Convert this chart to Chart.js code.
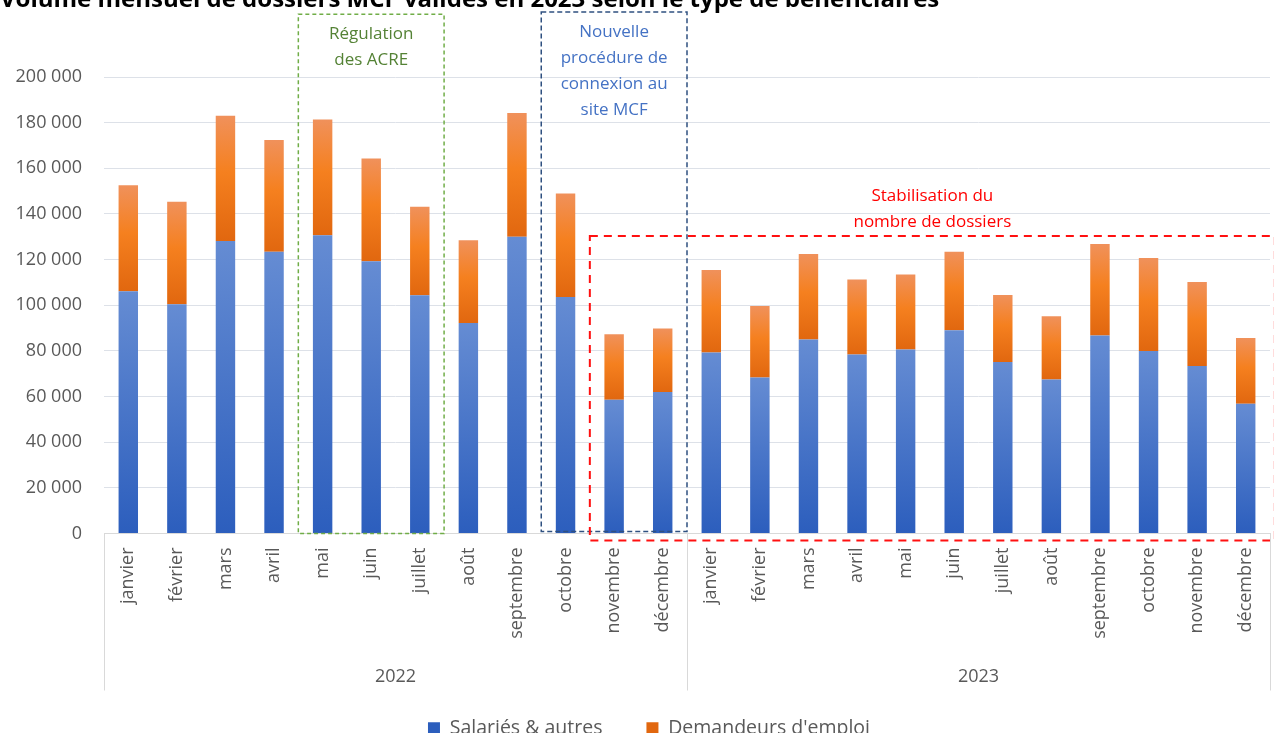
<!DOCTYPE html>
<html lang="fr">
<head>
<meta charset="utf-8">
<title>Dossiers MCF</title>
<script src="https://cdn.jsdelivr.net/npm/chart.js@4.4.1/dist/chart.umd.min.js"></script>
<style>
html, body { margin: 0; padding: 0; background: #fff; overflow: hidden; }
#wrap { position: absolute; left: 0; top: -14px; width: 1274px; height: 762px; }
</style>
</head>
<body>
<div id="wrap"><canvas id="mycanvas"></canvas></div>
<script>
// Categories
var mois = ['janvier', 'février', 'mars', 'avril', 'mai', 'juin', 'juillet', 'août', 'septembre', 'octobre', 'novembre', 'décembre'];
var annees = ['2022', '2023'];
var labels = mois.concat(mois);

// Series (2022 then 2023)
var salaries = [106100, 100400, 128200, 123400, 130700, 119300, 104400, 92200, 130000, 103600, 58600, 62000,
                79300, 68300, 85000, 78400, 80600, 89000, 75100, 67500, 86700, 80000, 73400, 56900];
var demandeurs = [46500, 44900, 54800, 49000, 50700, 45000, 38700, 36300, 54200, 45400, 28700, 27800,
                  36100, 31400, 37500, 32900, 32900, 34400, 29400, 27700, 40100, 40700, 36800, 28800];

// Y axis ticks
var yMax = 200000;
var yStep = 20000;

var titre = 'Volume mensuel de dossiers MCF validés en 2023 selon le type de bénéficiaires';

// Encadrés (annotations), bornes en index de catégorie et en valeur
var encadres = [
  { lignes: ['Régulation', 'des ACRE'], de: 4, a: 7, haut: 227500, bas: 0,
    trait: '#70AD47', texte: '#548235', tirets: [4, 3], epaisseur: 1.5, dedans: true },
  { lignes: ['Nouvelle', 'procédure de', 'connexion au', 'site MCF'], de: 9, a: 12, haut: 228500, bas: 900,
    trait: '#2F5080', texte: '#4472C4', tirets: [5, 3], epaisseur: 1.5, dedans: true },
  { lignes: ['Stabilisation du', 'nombre de dossiers'], de: 10, a: 24.1, haut: 130300, bas: -3100,
    trait: '#FF1010', texte: '#FF0000', tirets: [8, 6], epaisseur: 2, dedans: false }
];

var police = "'Open Sans', sans-serif";
var gris = '#595959';

function espaceMilliers(v) {
  return String(v).replace(/\B(?=(\d{3})+(?!\d))/g, ' ');
}

// Gradient for each bar segment
function degrade(context, bas, haut, stops, uni) {
  var chart = context.chart;
  if (context.type !== 'data' || !chart.chartArea) return uni;
  var y = chart.scales.y;
  var y0 = y.getPixelForValue(bas);
  var y1 = y.getPixelForValue(haut);
  var g = chart.ctx.createLinearGradient(0, y1, 0, y0);
  for (var k = 0; k < stops.length; k++) g.addColorStop(stops[k][0], stops[k][1]);
  return g;
}

var plugAnnot = {
  id: 'annotations',
  afterLayout: function(chart) {
    // légende un peu décalée vers la droite, comme dans l'original
    chart.legend.left += 28;
  },
  afterDatasetsDraw: function(chart) {
    var ctx = chart.ctx;
    var x = chart.scales.x, y = chart.scales.y;
    ctx.save();
    encadres.forEach(function(e) {
      var x0 = x.getPixelForValue(e.de - 0.5);
      var x1 = x.getPixelForValue(e.a - 0.5);
      var yt = y.getPixelForValue(e.haut);
      var yb = y.getPixelForValue(e.bas);
      ctx.setLineDash(e.tirets);
      ctx.lineWidth = e.epaisseur;
      ctx.strokeStyle = e.trait;
      ctx.strokeRect(x0, yt, x1 - x0, yb - yt);
      ctx.setLineDash([]);
      ctx.fillStyle = e.texte;
      ctx.font = '17px ' + police;
      ctx.textAlign = 'center';
      ctx.textBaseline = 'middle';
      var cx = (x0 + x1) / 2;
      var y0 = e.dedans ? yt + 20 : yt - 14 - 26 * (e.lignes.length - 1);
      e.lignes.forEach(function(l, i) {
        ctx.fillText(l, cx, y0 + i * 26);
      });
    });
    ctx.restore();
  },
  afterDraw: function(chart) {
    var ctx = chart.ctx;
    var x = chart.scales.x;
    var bas = chart.chartArea.bottom;
    ctx.save();
    // Titre (coupé en haut de l'image)
    ctx.fillStyle = '#000';
    ctx.font = 'bold 24px ' + police;
    ctx.textAlign = 'left';
    ctx.textBaseline = 'middle';
    ctx.fillText(titre, 0, 14.4);
    // Séparateurs et années
    ctx.strokeStyle = '#d9d9d9';
    ctx.lineWidth = 1;
    [-0.5, 11.5, 23.5].forEach(function(v) {
      var px = Math.round(x.getPixelForValue(v)) + 0.5;
      ctx.beginPath();
      ctx.moveTo(px, bas);
      ctx.lineTo(px, bas + 157);
      ctx.stroke();
    });
    ctx.fillStyle = gris;
    ctx.font = '18px ' + police;
    ctx.textAlign = 'center';
    annees.forEach(function(a, i) {
      ctx.fillText(a, x.getPixelForValue(i * 12 + 5.5), bas + 143);
    });
    ctx.restore();
  }
};

var ctx = document.getElementById('mycanvas');
var graphe = new Chart(ctx, {
  type: 'bar',
  data: {
    labels: labels,
    datasets: [
      {
        label: 'Salariés & autres',
        data: salaries,
        backgroundColor: function(c) {
          return degrade(c, 0, c.raw, [[0, '#658CD3'], [1, '#2C5EBD']], '#4472C4');
        },
        barPercentage: 0.4,
        categoryPercentage: 1
      },
      {
        label: "Demandeurs d'emploi",
        data: demandeurs,
        backgroundColor: function(c) {
          var b = salaries[c.dataIndex];
          return degrade(c, b, b + c.raw, [[0, '#F0915B'], [0.45, '#F5801F'], [1, '#E1670F']], '#ED7D31');
        },
        barPercentage: 0.4,
        categoryPercentage: 1
      }
    ]
  },
  options: {
    responsive: true,
    maintainAspectRatio: false,
    animation: false,
    layout: { padding: { left: 0, right: 4, top: 91, bottom: 0 } },
    plugins: {
      title: { display: false },
      legend: {
        position: 'bottom',
        labels: {
          boxWidth: 12,
          boxHeight: 12,
          padding: 44,
          color: gris,
          font: { family: police, size: 19.5 }
        }
      },
      tooltip: { enabled: false }
    },
    scales: {
      x: {
        stacked: true,
        grid: { display: true, drawOnChartArea: false, drawTicks: false },
        border: { display: true, color: '#d9d9d9' },
        ticks: {
          minRotation: 90,
          maxRotation: 90,
          autoSkip: false,
          padding: 14,
          color: gris,
          font: { family: police, size: 18 }
        },
        afterFit: function(s) {
          s.height = 141;
          s.paddingLeft = 0;
          s.paddingRight = 0;
        }
      },
      y: {
        stacked: true,
        min: 0,
        max: yMax,
        grid: { color: '#dde1e8', drawTicks: false },
        border: { display: false },
        ticks: {
          stepSize: yStep,
          padding: 22,
          color: gris,
          font: { family: police, size: 18 },
          callback: function(v) { return espaceMilliers(v); }
        },
        afterFit: function(s) { s.width = 104; s.paddingTop = 0; }
      }
    }
  },
  plugins: [plugAnnot]
});
</script>
</body>
</html>
